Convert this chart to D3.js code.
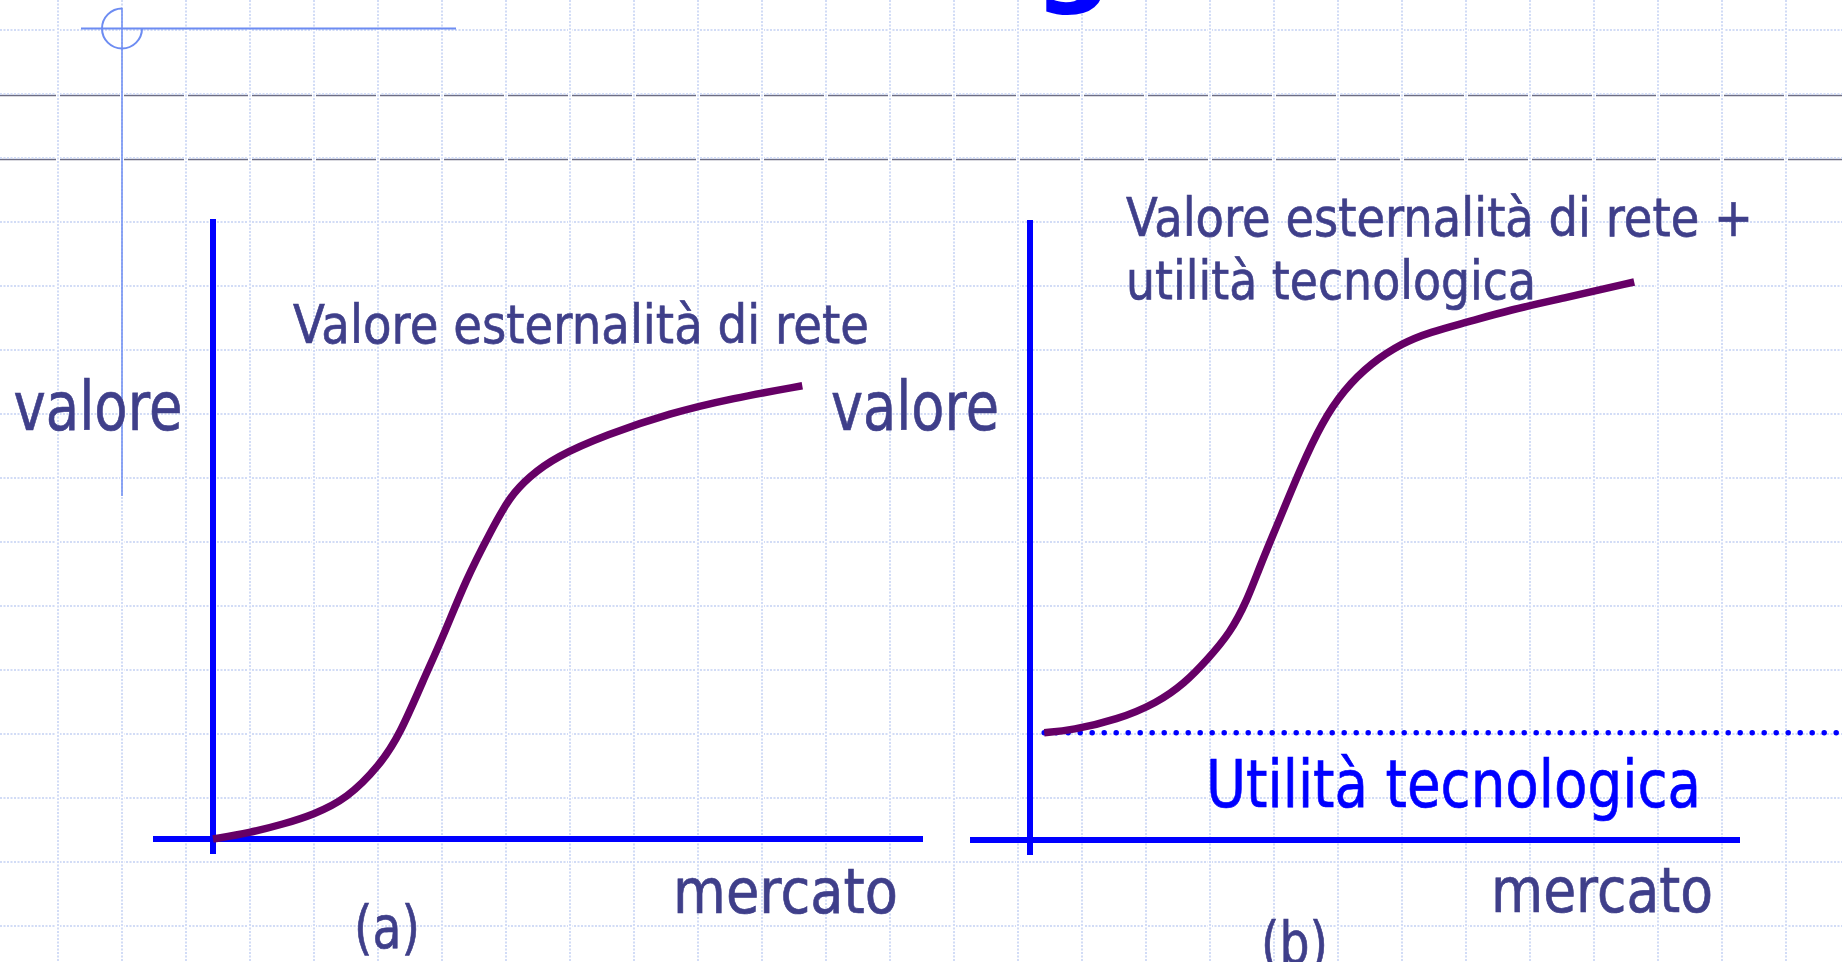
<!DOCTYPE html>
<html>
<head>
<meta charset="utf-8">
<script src="https://cdn.jsdelivr.net/npm/d3@7"></script>
<style>
  body { margin: 0; background: #fff; overflow: hidden; }
  text { font-family: "DejaVu Sans", Verdana, sans-serif; }
</style>
</head>
<body>
<div id="chart"></div>
<script>
// size of the page
let width = 1842,
    height = 962

// (a) network externality only: market share vs value
var marketA = [0, 5.2, 9.9, 14.1, 18.9, 23.5, 26.3, 29.6, 32.4, 35.6, 39.2, 41.8, 44.5, 48.2, 55.4, 64.4, 73.2, 83.0]
var valueA  = [0, 1.0, 2.4, 3.9, 6.5, 11.9, 16.8, 25.6, 32.6, 41.8, 49.8, 55.2, 58.4, 61.6, 65.2, 68.7, 71.1, 73.1]

// (b) network externality + technological utility
var marketB = [2.0, 5.9, 12.3, 17.9, 21.8, 24.9, 28.2, 30.6, 32.4, 35.1, 38.2, 41.1, 44.2, 48.0, 52.5, 56.3, 61.5, 67.6, 75.2, 85.1]
var valueB  = [17.3, 17.7, 19.4, 22.1, 25.3, 29.0, 33.4, 38.7, 44.2, 51.6, 60.2, 67.3, 72.6, 76.9, 80.2, 81.9, 83.5, 85.5, 87.4, 90.0]
var techUtility = 17.3

var axisLabels = ["valore", "mercato"]
var panelLabels = ["(a)", "(b)"]
var curveLabels = ["Valore esternalità di rete", "Valore esternalità di rete +", "utilità tecnologica"]
var utilityLabel = "Utilità tecnologica"

var textColor = "#3f3f8a"
var axisColor = "#0000ff"
var curveColor = "#660066"

var svg = d3.select("#chart")
  .append("svg")
    .attr("width", width)
    .attr("height", height)

svg.append("rect").attr("width", width).attr("height", height).attr("fill", "#fff")

// background: the slide template (grid paper, two grey rules, crosshair)
var bg = svg.append("g")

bg.selectAll("line.rule")
  .data([95.5, 159.5])
  .enter().append("line")
    .attr("x1", 0).attr("x2", width)
    .attr("y1", d => d).attr("y2", d => d)
    .attr("stroke", "#6e6e84")
    .attr("stroke-width", 1.5)

bg.selectAll("line.hgrid")
  .data(d3.range(30, height, 64))
  .enter().append("line")
    .attr("x1", 0).attr("x2", width)
    .attr("y1", d => d).attr("y2", d => d)
    .attr("stroke", "#d2dcf6")
    .attr("stroke-width", 2)
    .attr("stroke-dasharray", "2,1.5")

var vx = d3.range(58, width, 64)
bg.selectAll("line.vgridbg")
  .data(vx)
  .enter().append("line")
    .attr("x1", d => d).attr("x2", d => d)
    .attr("y1", 0).attr("y2", height)
    .attr("stroke", "#fff")
    .attr("stroke-width", 4)
bg.selectAll("line.vgrid")
  .data(vx)
  .enter().append("line")
    .attr("x1", d => d).attr("x2", d => d)
    .attr("y1", 0).attr("y2", height)
    .attr("stroke", "#d2dcf6")
    .attr("stroke-width", 2)
    .attr("stroke-dasharray", "2,1.5")

// crosshair mark top left
bg.append("line")
  .attr("x1", 81).attr("x2", 456).attr("y1", 28.5).attr("y2", 28.5)
  .attr("stroke", "#6d8cf2").attr("stroke-width", 2)
bg.append("line")
  .attr("x1", 122).attr("x2", 122).attr("y1", 8).attr("y2", 496)
  .attr("stroke", "#6d8cf2").attr("stroke-width", 1.5)
var p = d3.path()
p.arc(122, 28.5, 20, 0, 1.5 * Math.PI)
bg.append("path")
  .attr("d", p.toString())
  .attr("fill", "none")
  .attr("stroke", "#6d8cf2").attr("stroke-width", 2)

// bottom of the slide title, cut off by the top edge
svg.append("text")
  .attr("x", 1034).attr("y", -9)
  .attr("font-size", 110)
  .attr("font-weight", "bold")
  .attr("fill", "#0000ff")
  .text("g")

// scales
var xA = d3.scaleLinear().domain([0, 100]).range([213, 923])
var yA = d3.scaleLinear().domain([0, 100]).range([839, 219])
var xB = d3.scaleLinear().domain([0, 100]).range([1030, 1740])
var yB = d3.scaleLinear().domain([0, 100]).range([840, 220])

function drawAxes(x, y) {
  svg.append("line")
    .attr("x1", x(0)).attr("x2", x(0))
    .attr("y1", y(100)).attr("y2", y(-2.4))
    .attr("stroke", axisColor).attr("stroke-width", 6)
  svg.append("line")
    .attr("x1", x(-8.45)).attr("x2", x(100))
    .attr("y1", y(0)).attr("y2", y(0))
    .attr("stroke", axisColor).attr("stroke-width", 6)
}
drawAxes(xA, yA)
drawAxes(xB, yB)

// technological utility level (dotted)
svg.append("line")
  .attr("x1", xB(marketB[0])).attr("x2", width + 10)
  .attr("y1", yB(techUtility)).attr("y2", yB(techUtility))
  .attr("stroke", axisColor)
  .attr("stroke-width", 5.5)
  .attr("stroke-linecap", "round")
  .attr("stroke-dasharray", "0,12")

function drawCurve(mk, val, x, y) {
  var line = d3.line()
    .x((d, i) => x(mk[i]))
    .y(d => y(d))
    .curve(d3.curveBasis)
  svg.append("path")
    .attr("d", line(val))
    .attr("fill", "none")
    .attr("stroke", curveColor)
    .attr("stroke-width", 7.5)
}
drawCurve(marketA, valueA, xA, yA)
drawCurve(marketB, valueB, xB, yB)

// labels: [text, x, baseline, width, size, colour]
var labels = [
  [axisLabels[0], 13.5, 430, 169, 68, textColor],
  [axisLabels[0], 831, 430, 168, 68, textColor],
  [axisLabels[1], 673, 913, 225, 62, textColor],
  [axisLabels[1], 1491, 912, 222, 62, textColor],
  [panelLabels[0], 354, 948, 66, 58, textColor],
  [panelLabels[1], 1261, 964, 67, 58, textColor],
  [curveLabels[0], 293, 342.5, 576, 54, textColor],
  [curveLabels[1], 1126, 236, 627, 53, textColor],
  [curveLabels[2], 1126, 299, 410, 53, textColor],
  [utilityLabel, 1206, 807, 495, 65, axisColor]
]

svg.selectAll("text.lbl")
  .data(labels)
  .enter().append("text")
    .attr("class", "lbl")
    .attr("x", d => d[1])
    .attr("y", d => d[2])
    .attr("textLength", d => d[3])
    .attr("lengthAdjust", "spacingAndGlyphs")
    .attr("font-size", d => d[4])
    .attr("fill", d => d[5])
    .attr("stroke", d => d[5])
    .attr("stroke-width", 0.7)
    .text(d => d[0])
</script>
</body>
</html>
